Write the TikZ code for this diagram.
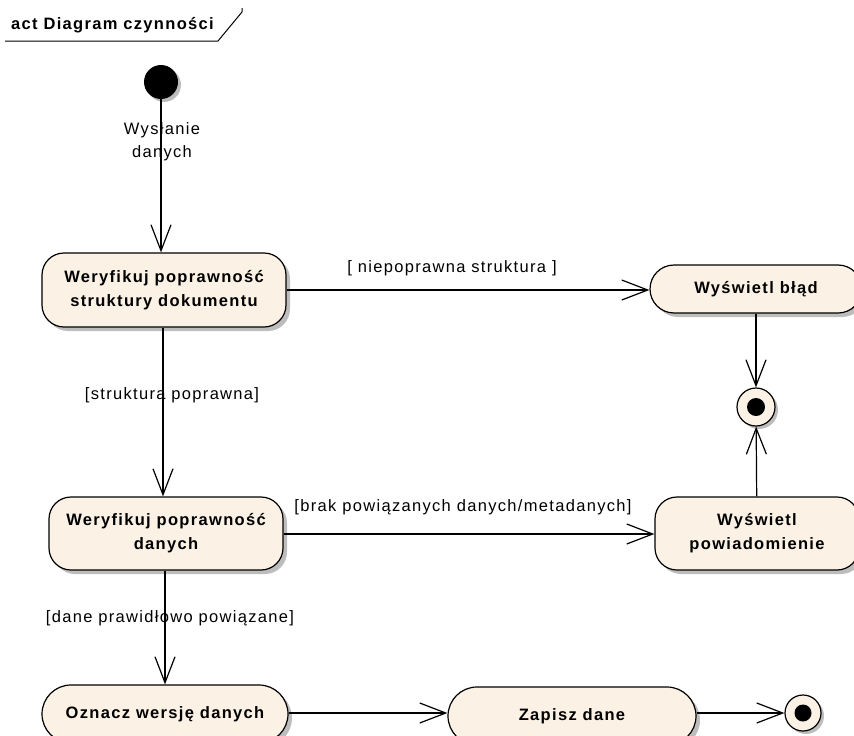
\documentclass[tikz,border=0pt]{standalone}
\usepackage{fontspec}
\setmainfont{Liberation Sans}
\newfontfamily\lblfont[LetterSpace=8]{Liberation Sans}
\usetikzlibrary{arrows.meta,shadows}
\definecolor{actfill}{HTML}{FBF1E4}
\definecolor{shadowgray}{HTML}{BDBDBD}
\tikzset{
  act/.style={draw=black, line width=1.2pt, fill=actfill, rounded corners=22pt,
    align=center, inner sep=0pt, font=\lblfont\bfseries\fontsize{16.5}{24}\selectfont,
    drop shadow={shadow xshift=4pt, shadow yshift=-4pt, fill=shadowgray, opacity=1}},
  startnode/.style={circle, fill=black, minimum size=34pt, inner sep=0pt,
    drop shadow={shadow xshift=3pt, shadow yshift=-3pt, fill=shadowgray, opacity=1}},
  endnode/.style={circle, draw=black, line width=1.2pt, fill=actfill, minimum size=#1, inner sep=0pt,
    drop shadow={shadow xshift=3pt, shadow yshift=-3pt, fill=shadowgray, opacity=1}},
  dotnode/.style={circle, fill=black, minimum size=#1, inner sep=0pt},
  flow/.style={line width=1.2pt, -{Straight Barb[length=26pt,width=20pt,line width=1.2pt]}},
  lbl/.style={font=\lblfont\fontsize{16.5}{23}\selectfont, align=center, inner sep=0pt},
}
\begin{document}
\begin{tikzpicture}[x=1pt,y=-1pt]
\useasboundingbox (0,0) rectangle (854,736);
% frame label
\node[font=\lblfont\bfseries\fontsize{16.5}{18}\selectfont, anchor=west, inner sep=0pt] (title) at (11,25) {act Diagram czynności};
\coordinate (fa) at (5,41);
\coordinate (fb) at (218,41);
\coordinate (fc) at (242,12);
\coordinate (fd) at (242,8);
\draw[line width=1pt] (fa) -- (fb) -- (fc) -- (fd);
% nodes
\node[startnode] (init) at (161,82) {};
\node[act, minimum width=244pt, minimum height=74pt] (n1) at (164,290) {Weryfikuj poprawność\\struktury dokumentu};
\node[act, minimum width=212pt, minimum height=48pt, rounded corners=24pt] (err) at (756,289) {Wyświetl błąd};
\node[endnode=38pt] (f1) at (756,407) {};
\node[dotnode=18pt] (f1d) at (f1) {};
\node[act, minimum width=234pt, minimum height=73pt] (n2) at (166,533.5) {Weryfikuj poprawność\\danych};
\node[act, minimum width=204pt, minimum height=73pt] (notif) at (757,533.5) {Wyświetl\\powiadomienie};
\node[act, minimum width=246pt, minimum height=58pt, rounded corners=29pt] (n3) at (165,714) {Oznacz wersję danych};
\node[act, minimum width=248pt, minimum height=58pt, rounded corners=29pt] (save) at (572,716) {Zapisz dane};
\node[endnode=36pt] (f2) at (803,713) {};
\node[dotnode=17pt] (f2d) at (f2) {};
% connectors
\draw[flow] (init) -- (init |- n1.north);
\draw[flow] (n1.south -| 163,0) -- (n2.north -| 163,0);
\draw[flow] (n2.south -| 165,0) -- (n3.north -| 165,0);
\draw[flow] (n1.east |- 0,290) -- (err.west |- 0,290);
\draw[flow] (n2.east |- 0,534) -- (notif.west |- 0,534);
\draw[flow] (err) -- (f1);
\draw[flow] (notif) -- (f1);
\draw[flow] (n3.east |- 0,713) -- (save.west |- 0,713);
\draw[flow] (save.east |- 0,713) -- (f2);
% labels
\node[lbl] (l0) at (162,142) {Wysłanie\\danych};
\node[lbl] (l1) at (452,268) {[ niepoprawna struktura ]};
\node[lbl] (l2) at (172,395) {[struktura poprawna]};
\node[lbl] (l3) at (463,507) {[brak powiązanych danych/metadanych]};
\node[lbl] (l4) at (170,618) {[dane prawidłowo powiązane]};
\end{tikzpicture}
\end{document}
